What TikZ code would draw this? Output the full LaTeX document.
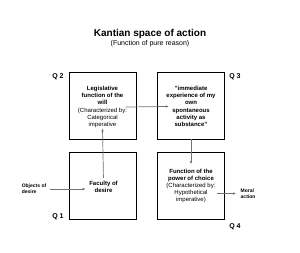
\documentclass[tikz,border=0pt]{standalone}
\usepackage{fontspec}
\setmainfont{Liberation Sans}
\usetikzlibrary{arrows.meta}

\begin{document}
\begin{tikzpicture}[x=1pt, y=-1pt,
  quad/.style={draw, line width=0.9pt, minimum width=67pt, minimum height=67pt, inner sep=0pt},
  inside/.style={align=center, inner sep=0.5pt, font=\fontsize{6}{7.2}\selectfont},
  side/.style={align=left, inner sep=0.5pt, font=\fontsize{5}{6}\selectfont\bfseries},
  qlabel/.style={inner sep=0pt, font=\fontsize{7}{8}\selectfont\bfseries},
  arrow/.style={-{Latex[length=3pt,width=2.6pt]}, draw=black!55, line width=0.7pt}
]
\useasboundingbox (0,0) rectangle (300,252);
\node[font=\fontsize{10}{12}\selectfont\bfseries] (title) at (150,34) {Kantian space of action};
\node[font=\fontsize{7}{8}\selectfont] (subtitle) at (150,44) {(Function of pure reason)};

\node[quad] (q2box) at (102.5,105.5) {};
\node[quad] (q3box) at (191,105.5) {};
\node[quad] (q1box) at (102.5,186) {};
\node[quad] (q4box) at (191,186) {};

\node[qlabel] (q2) at (58,77) {Q 2};
\node[qlabel] (q3) at (235,77) {Q 3};
\node[qlabel] (q1) at (58,217) {Q 1};
\node[qlabel] (q4) at (235,227) {Q 4};

\node[inside] (will) at (102.5,107) {\textbf{Legislative}\\\textbf{function of the}\\\textbf{will}\\(Characterized by:\\Categorical\\imperative};
\node[inside, font=\fontsize{6}{7.3}\selectfont\bfseries] (experience) at (191,106.5) {"immediate\\experience of my\\own\\spontaneous\\activity as\\substance"};
\node[inside, font=\fontsize{6}{7.2}\selectfont\bfseries] (desire) at (103.5,186.5) {Faculty of\\desire};
\node[inside] (choice) at (191,186) {\textbf{Function of the}\\\textbf{power of choice}\\(Characterized by:\\Hypothetical\\imperative)};

\node[side] (objects) at (34,189) {Objects of\\desire};
\node[side, anchor=west] (moral) at (240,193.5) {Moral\\action};

\draw[arrow, shorten <=2pt] (desire.north) -- (will.south);
\draw[arrow, shorten <=-2pt, shorten >=-3pt] (will.east) -- (experience.west);
\draw[arrow, shorten >=4pt] (q3box.south) -- (choice.north);
\draw[arrow, shorten <=3pt, shorten >=3pt] (objects.east) -- (objects.east -| desire.west);
\draw[arrow, shorten <=1pt, shorten >=4pt] (choice.east |- moral.west) -- (moral.west);
\end{tikzpicture}
\end{document}
